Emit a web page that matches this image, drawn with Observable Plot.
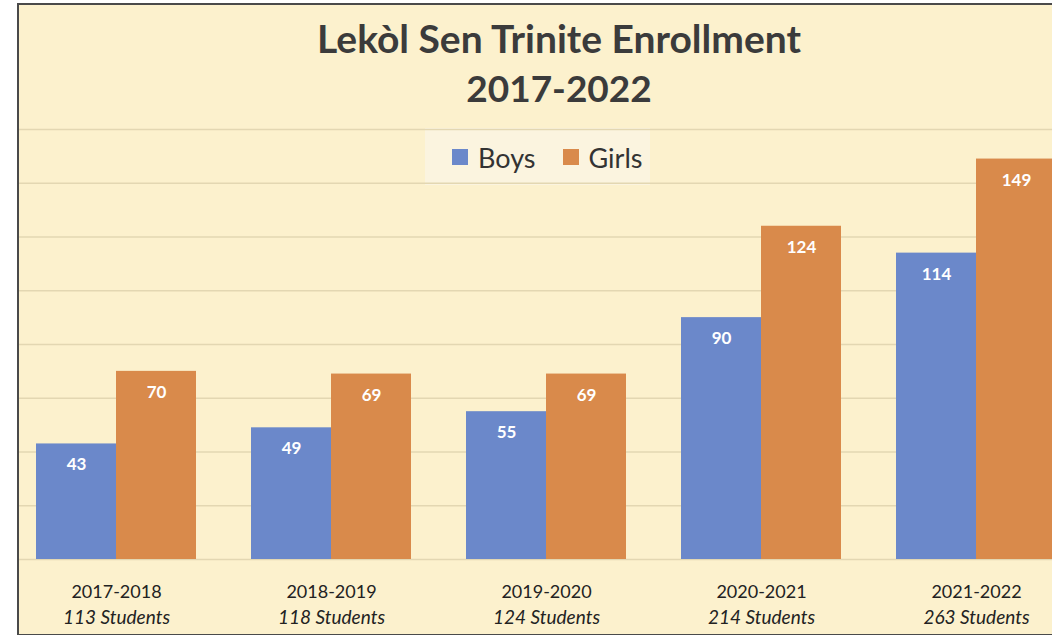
<!DOCTYPE html>
<html><head><meta charset="utf-8">
<script src="https://cdn.jsdelivr.net/npm/d3@7"></script>
<script src="https://cdn.jsdelivr.net/npm/@observablehq/plot@0.6"></script>
<style>
html,body{margin:0;padding:0;width:1052px;height:635px;overflow:hidden;background:#fff;font-family:Lato,"Open Sans",sans-serif;}
#frame{position:absolute;left:17px;top:3px;width:1200px;height:629px;border:2px solid #4a4a4a;background:#FCF1CD;}
.title{position:absolute;left:17px;width:1084px;text-align:center;font-weight:700;line-height:52px;color:#3b3b3b;white-space:nowrap;}
#t1{top:12px;font-size:39px;}
#t2{top:62px;font-size:37px;}
#legendbox{position:absolute;left:425px;top:128px;width:225px;height:57px;background:#FBF4DF;}
#legend{position:absolute;left:452px;top:138px;height:38px;display:flex;align-items:center;font-size:27px;color:#333;}
#legend .item{display:flex;align-items:center;margin-right:27px;}
#legend .sw{display:inline-block;width:16px;height:16px;margin-right:10px;}
#grid,#chart{position:absolute;left:0;top:0;width:1100px;height:635px;}
#grid svg,#chart svg{max-width:none !important;}
</style></head>
<body>
<div id="frame"></div>
<div id="legendbox"></div>
<div id="grid"></div>
<div id="chart"></div>
<div class="title" id="t1">Lekòl Sen Trinite Enrollment</div>
<div class="title" id="t2">2017-2022</div>
<div id="legend"></div>
<script>
const years = ["2017-2018", "2018-2019", "2019-2020", "2020-2021", "2021-2022"];
const sexes = ["Boys", "Girls"];
const boys = [43, 49, 55, 90, 114];
const girls = [70, 69, 69, 124, 149];
const totals = [113, 118, 124, 214, 263];
const yTicks = [0, 20, 40, 60, 80, 100, 120, 140, 160];
const colors = ["#6B88CA", "#D98A4B"];

const data = years.flatMap((y, i) => [
  {year: y, sex: "Boys", value: boys[i]},
  {year: y, sex: "Girls", value: girls[i]}
]);

const W = 1100, H = 635;

const grid = Plot.plot({
  width: W, height: H,
  marginTop: 129, marginBottom: 76, marginLeft: 19, marginRight: 0,
  style: {background: "transparent"},
  y: {domain: [0, 160], axis: null},
  marks: [Plot.ruleY(yTicks, {stroke: "#E3D7B2", strokeWidth: 1.5})]
});
document.getElementById("grid").append(grid);

const chart = Plot.plot({
  width: W, height: H,
  marginTop: 129, marginBottom: 76, marginLeft: 20, marginRight: 28,
  style: {background: "transparent", fontFamily: "Lato, 'Open Sans', sans-serif"},
  fx: {domain: years, paddingInner: 0.2575, paddingOuter: 0.0696, axis: null, label: null},
  x: {domain: sexes, padding: 0, axis: null},
  y: {domain: [0, 160], axis: null},
  color: {domain: sexes, range: colors},
  marks: [
    Plot.barY(data, {fx: "year", x: "sex", y: "value", fill: "sex"}),
    Plot.text(data, {fx: "year", x: "sex", y: "value", text: "value", dy: 21, fill: "white", fontWeight: 700, fontSize: 17}),
    Plot.text(years, {fx: d => d, text: d => d, frameAnchor: "bottom", lineAnchor: "middle", dy: 33, fontSize: 18, fill: "#222"}),
    Plot.text(years, {fx: d => d, text: (d, i) => totals[i] + " Students", frameAnchor: "bottom", lineAnchor: "middle", dy: 58, fontSize: 19, fontStyle: "italic", fill: "#222"})
  ]
});
document.getElementById("chart").append(chart);

const legend = document.getElementById("legend");
sexes.forEach((s, i) => {
  const item = document.createElement("span");
  item.className = "item";
  const sw = document.createElement("span");
  sw.className = "sw";
  sw.style.background = colors[i];
  item.append(sw, document.createTextNode(s));
  legend.append(item);
});
</script>
</body></html>
